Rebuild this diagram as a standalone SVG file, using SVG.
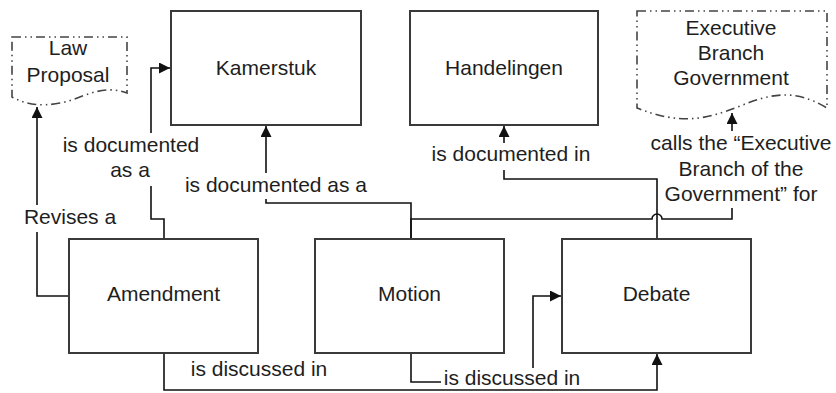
<svg xmlns="http://www.w3.org/2000/svg" width="836" height="393" viewBox="0 0 836 393">
<style>
text{font-family:"Liberation Sans",Arial,sans-serif;font-size:21px;fill:#1e1e1e;text-anchor:middle}
.box{fill:#fff;stroke:#3a3a3a;stroke-width:2}
.doc{fill:#fff;stroke:#444;stroke-width:1.6;stroke-dasharray:9,4,1.5,4,1.5,4}
.c{fill:none;stroke:#111;stroke-width:1.6}
.bg{fill:#fff;stroke:none}
</style>
<defs>
<marker id="ah" markerUnits="userSpaceOnUse" markerWidth="12" markerHeight="12" refX="11" refY="5.5" orient="auto">
<path d="M0,0 L11,5.5 L0,11 z" fill="#111"/>
</marker>
</defs>
<rect width="836" height="393" fill="#fff"/>
<g id="connectors">
<path class="c" d="M69,296 H37 V107" marker-end="url(#ah)"/>
<path class="c" d="M164,239 V219 H151 V68 H170" marker-end="url(#ah)"/>
<path class="c" d="M411,239 V203 H266 V126" marker-end="url(#ah)"/>
<path class="c" d="M657,239 V179 H504 V126" marker-end="url(#ah)"/>
<path class="c" d="M411,239 V219 H652 A5,5 0 0 1 662,219 H732 V113" marker-end="url(#ah)"/>
<path class="c" d="M164,353 V390 H657 V354" marker-end="url(#ah)"/>
<path class="c" d="M411,353 V382 H533 V296 H561" marker-end="url(#ah)"/>
<rect class="bg" x="21" y="205" width="98" height="27"/>
<text x="70" y="224">Revises a</text>
<rect class="bg" x="60" y="133" width="142" height="53"/>
<text x="131" y="152">is documented</text>
<text x="130" y="177">as a</text>
<rect class="bg" x="184" y="173" width="186" height="26"/>
<text x="276" y="192">is documented as a</text>
<rect class="bg" x="428" y="143" width="166" height="27"/>
<text x="511" y="161">is documented in</text>
<rect class="bg" x="649" y="131" width="186" height="25"/>
<rect class="bg" x="678" y="156" width="127" height="25"/>
<rect class="bg" x="662" y="181" width="158" height="27"/>
<text x="741" y="150">calls the “Executive</text>
<text x="741" y="176">Branch of the</text>
<text x="741" y="201">Government” for</text>
<rect class="bg" x="188" y="358" width="142" height="24"/>
<text x="259" y="376">is discussed in</text>
<rect class="bg" x="441" y="368" width="143" height="20"/>
<text x="512" y="385">is discussed in</text>
</g>
<g id="kamerstuk">
<rect class="box" x="171" y="11" width="190" height="114"/>
<text x="266" y="75">Kamerstuk</text>
</g>
<g id="handelingen">
<rect class="box" x="410" y="11" width="188" height="114"/>
<text x="504" y="75">Handelingen</text>
</g>
<g id="law-proposal">
<path class="doc" d="M12,37 H127 V93 C100,83 80,100 60,103 C40,107 25,104 12,97 Z"/>
<text x="68" y="55">Law</text>
<text x="68" y="82">Proposal</text>
</g>
<g id="executive-branch">
<path class="doc" d="M637,11 H827 V108 C794,88 770,94 740,106 C705,120 680,125 637,108 Z"/>
<text x="731" y="35">Executive</text>
<text x="731" y="60">Branch</text>
<text x="731" y="85">Government</text>
</g>
<g id="amendment">
<rect class="box" x="69" y="239" width="189" height="114"/>
<text x="163.5" y="301">Amendment</text>
</g>
<g id="motion">
<rect class="box" x="315" y="239" width="189" height="114"/>
<text x="409.5" y="301">Motion</text>
</g>
<g id="debate">
<rect class="box" x="562" y="239" width="189" height="114"/>
<text x="656.5" y="301">Debate</text>
</g>
</svg>
